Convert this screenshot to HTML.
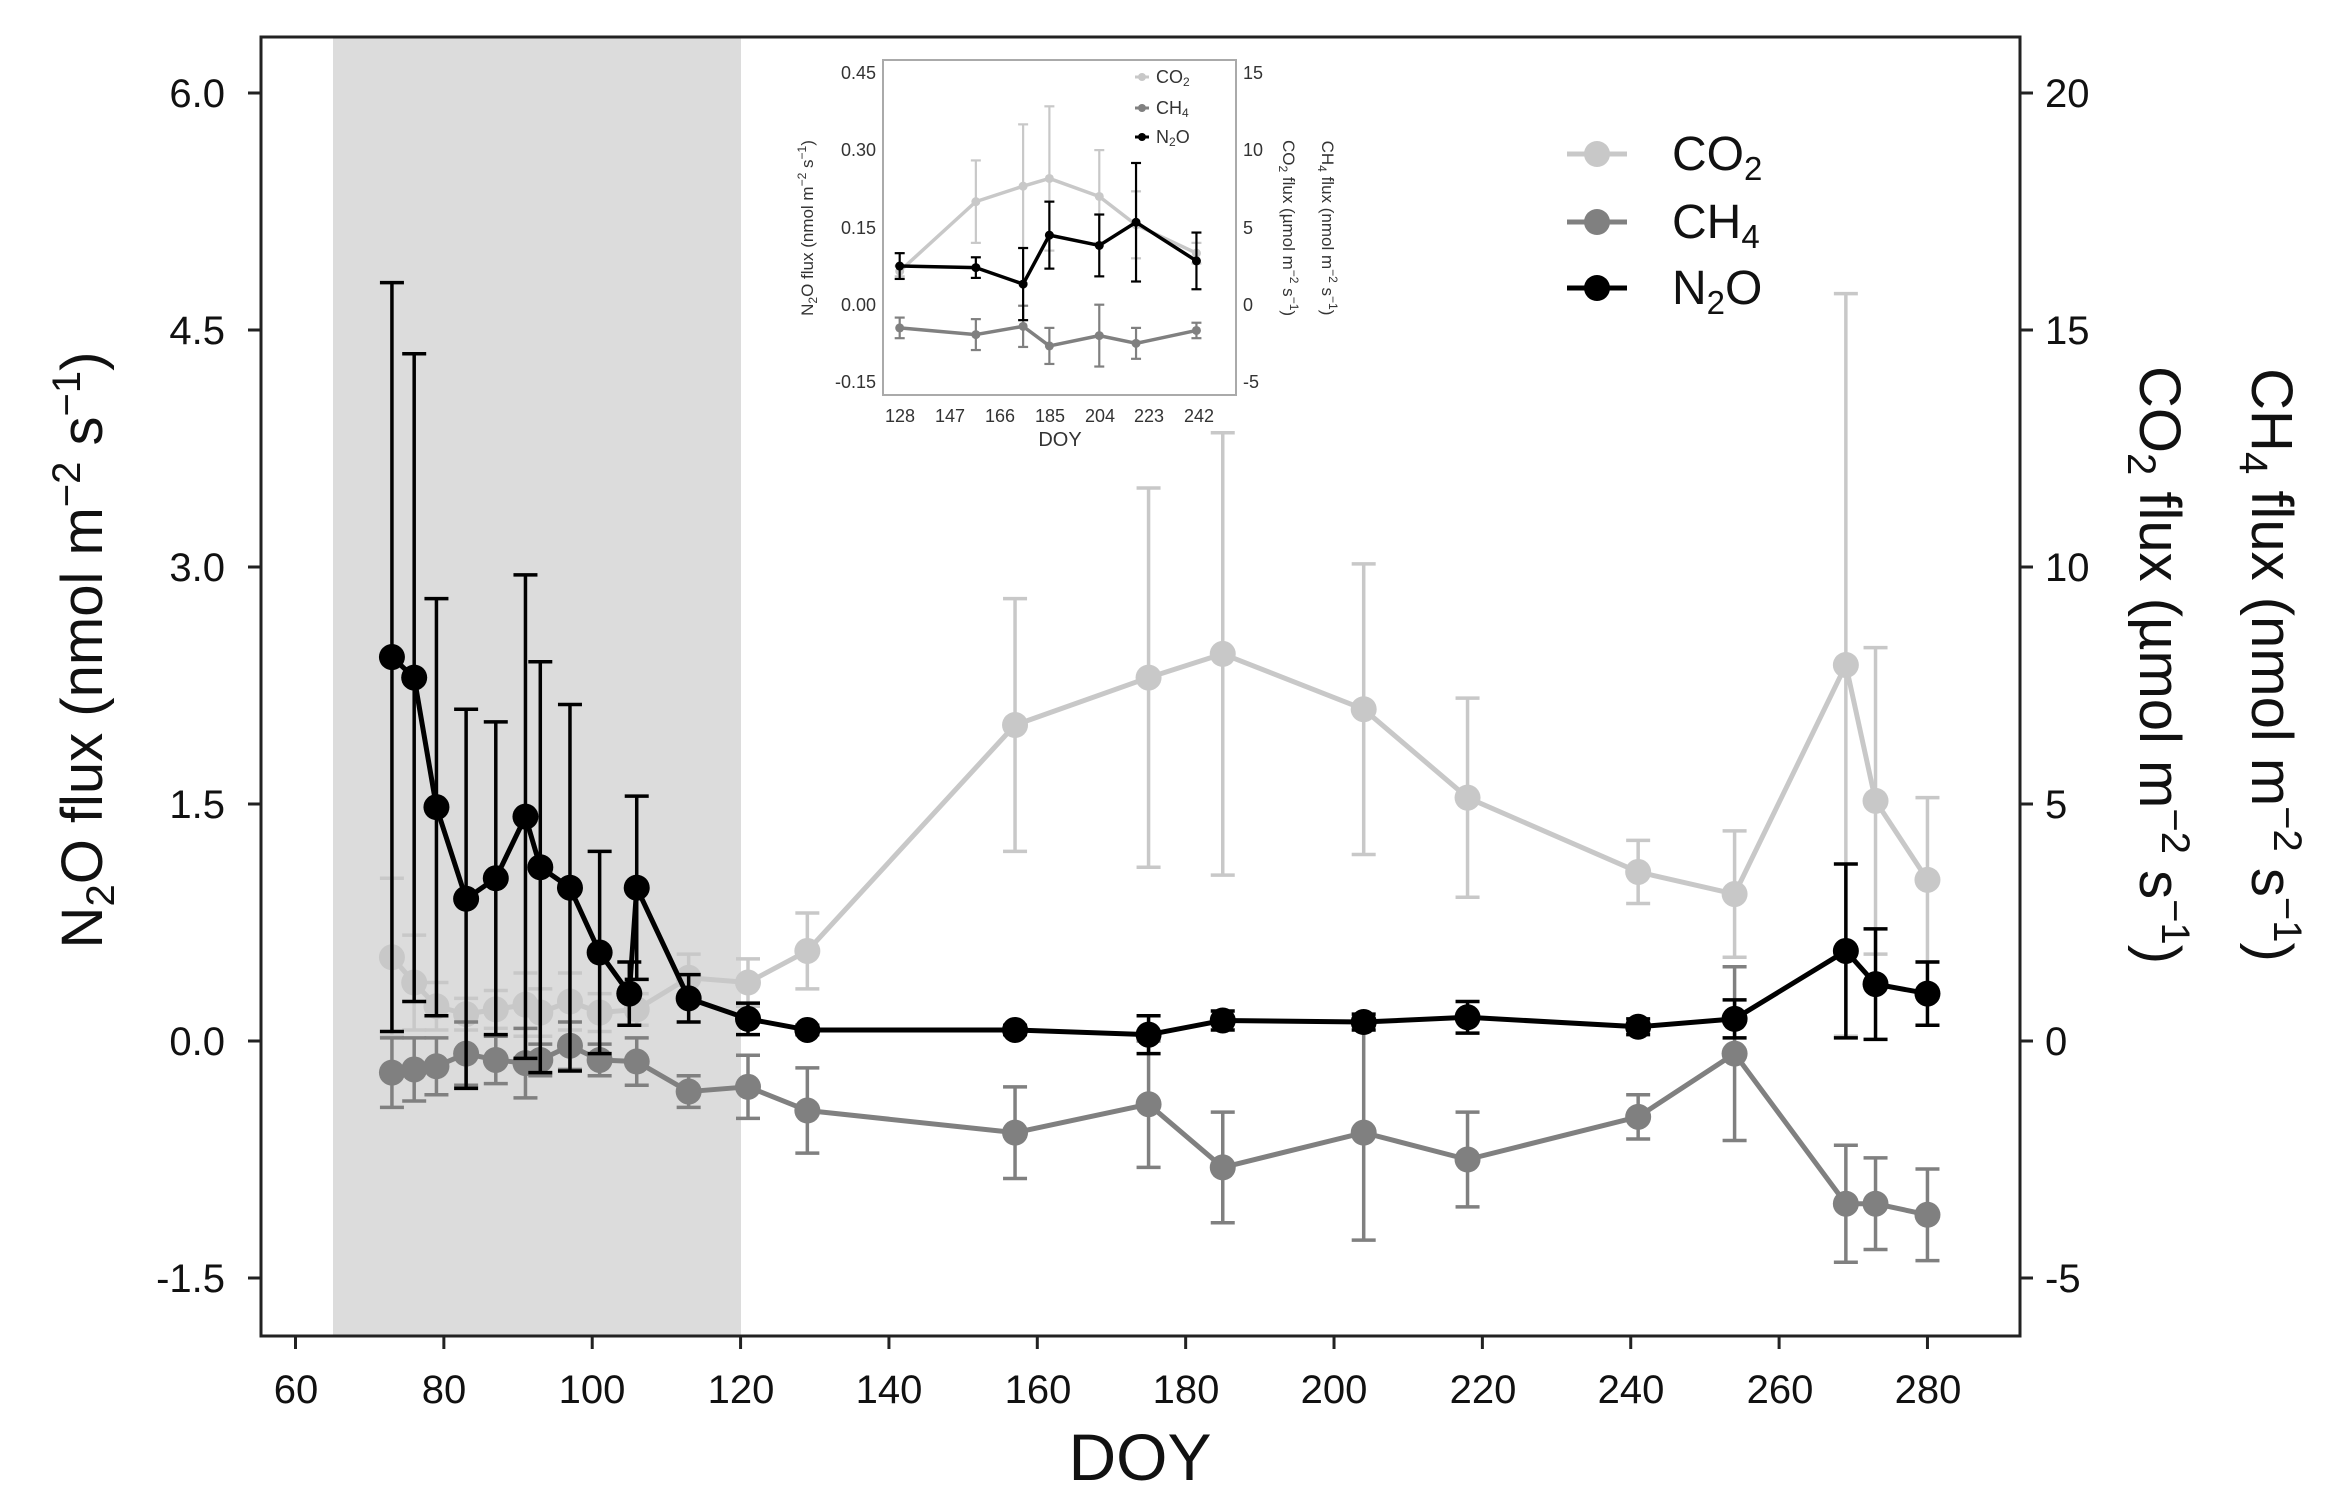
<!DOCTYPE html>
<html><head><meta charset="utf-8"><style>
html,body{margin:0;padding:0;background:#fff;}
svg{display:block;font-family:"Liberation Sans",Arial,sans-serif;}
</style></head><body>
<svg id="s" width="2339" height="1498" viewBox="0 0 2339 1498" xmlns="http://www.w3.org/2000/svg">
<rect x="0" y="0" width="2339" height="1498" fill="#fff"/>
<rect x="333" y="37" width="408" height="1299" fill="#dcdcdc"/>
<g id="main"></g>
<rect x="261" y="37" width="1759" height="1299" fill="none" stroke="#222" stroke-width="3"/>
<g font-size="40" fill="#111" text-anchor="end">
<text x="225" y="107">6.0</text><text x="225" y="344">4.5</text><text x="225" y="581">3.0</text>
<text x="225" y="818">1.5</text><text x="225" y="1055">0.0</text><text x="225" y="1292">-1.5</text>
</g>
<g stroke="#222" stroke-width="3">
<line x1="248" y1="93" x2="261" y2="93"/><line x1="248" y1="330" x2="261" y2="330"/><line x1="248" y1="567" x2="261" y2="567"/>
<line x1="248" y1="804" x2="261" y2="804"/><line x1="248" y1="1041" x2="261" y2="1041"/><line x1="248" y1="1278" x2="261" y2="1278"/>
<line x1="2020" y1="93" x2="2033" y2="93"/><line x1="2020" y1="330" x2="2033" y2="330"/><line x1="2020" y1="567" x2="2033" y2="567"/>
<line x1="2020" y1="804" x2="2033" y2="804"/><line x1="2020" y1="1041" x2="2033" y2="1041"/><line x1="2020" y1="1278" x2="2033" y2="1278"/>
</g>
<g font-size="40" fill="#111" text-anchor="start">
<text x="2045" y="107">20</text><text x="2045" y="344">15</text><text x="2045" y="581">10</text>
<text x="2045" y="818">5</text><text x="2045" y="1055">0</text><text x="2045" y="1292">-5</text>
</g>
<g id="xt" stroke="#222" stroke-width="3"></g>
<g font-size="40" fill="#111" text-anchor="middle">
<text x="296" y="1403">60</text><text x="444" y="1403">80</text><text x="592" y="1403">100</text><text x="741" y="1403">120</text>
<text x="889" y="1403">140</text><text x="1038" y="1403">160</text><text x="1186" y="1403">180</text><text x="1334" y="1403">200</text>
<text x="1483" y="1403">220</text><text x="1631" y="1403">240</text><text x="1780" y="1403">260</text><text x="1928" y="1403">280</text>
</g>
<text x="1140" y="1480" font-size="66" text-anchor="middle" fill="#111">DOY</text>
<text transform="translate(102,650) rotate(-90)" font-size="58" text-anchor="middle" fill="#111">N<tspan font-size="40" dy="12">2</tspan><tspan dy="-12">O flux (nmol m</tspan><tspan font-size="40" dy="-22">−2</tspan><tspan dy="22"> s</tspan><tspan font-size="40" dy="-22">−1</tspan><tspan dy="22">)</tspan></text>
<text transform="translate(2140,665) rotate(90)" font-size="58" text-anchor="middle" fill="#111">CO<tspan font-size="40" dy="12">2</tspan><tspan dy="-12"> flux (µmol m</tspan><tspan font-size="40" dy="-22">−2</tspan><tspan dy="22"> s</tspan><tspan font-size="40" dy="-22">−1</tspan><tspan dy="22">)</tspan></text>
<text transform="translate(2252,665) rotate(90)" font-size="58" text-anchor="middle" fill="#111">CH<tspan font-size="40" dy="12">4</tspan><tspan dy="-12"> flux (nmol m</tspan><tspan font-size="40" dy="-22">−2</tspan><tspan dy="22"> s</tspan><tspan font-size="40" dy="-22">−1</tspan><tspan dy="22">)</tspan></text>
<g>
<line x1="1567" y1="154" x2="1627" y2="154" stroke="#c8c8c8" stroke-width="5"/><circle cx="1597" cy="154" r="13" fill="#c8c8c8"/>
<line x1="1567" y1="222" x2="1627" y2="222" stroke="#808080" stroke-width="5"/><circle cx="1597" cy="222" r="13" fill="#808080"/>
<line x1="1567" y1="288" x2="1627" y2="288" stroke="#000" stroke-width="5"/><circle cx="1597" cy="288" r="13" fill="#000"/>
<g font-size="48" fill="#111">
<text x="1672" y="170">CO<tspan font-size="33" dy="10">2</tspan></text>
<text x="1672" y="238">CH<tspan font-size="33" dy="10">4</tspan></text>
<text x="1672" y="304">N<tspan font-size="33" dy="10">2</tspan><tspan dy="-10">O</tspan></text>
</g></g>
<!-- inset -->
<rect x="883" y="60" width="353" height="335" fill="#fff"/>
<g id="ins"></g>
<rect x="883" y="60" width="353" height="335" fill="none" stroke="#aaa" stroke-width="2"/>
<g font-size="18" fill="#333" text-anchor="end">
<text x="876" y="79">0.45</text><text x="876" y="156">0.30</text><text x="876" y="234">0.15</text>
<text x="876" y="311">0.00</text><text x="876" y="388">-0.15</text>
</g>
<g font-size="18" fill="#333">
<text x="1243" y="79">15</text><text x="1243" y="156">10</text><text x="1243" y="234">5</text>
<text x="1243" y="311">0</text><text x="1243" y="388">-5</text>
</g>
<g font-size="18" fill="#333" text-anchor="middle">
<text x="900" y="422">128</text><text x="950" y="422">147</text><text x="1000" y="422">166</text><text x="1050" y="422">185</text>
<text x="1100" y="422">204</text><text x="1149" y="422">223</text><text x="1199" y="422">242</text>
<text x="1060" y="446" font-size="20">DOY</text>
</g>
<text transform="translate(813,228) rotate(-90)" font-size="17" text-anchor="middle" fill="#333">N<tspan font-size="12" dy="4">2</tspan><tspan dy="-4">O flux (nmol m</tspan><tspan font-size="12" dy="-7">−2</tspan><tspan dy="7"> s</tspan><tspan font-size="12" dy="-7">−1</tspan><tspan dy="7">)</tspan></text>
<text transform="translate(1283,228) rotate(90)" font-size="17" text-anchor="middle" fill="#333">CO<tspan font-size="12" dy="4">2</tspan><tspan dy="-4"> flux (µmol m</tspan><tspan font-size="12" dy="-7">−2</tspan><tspan dy="7"> s</tspan><tspan font-size="12" dy="-7">−1</tspan><tspan dy="7">)</tspan></text>
<text transform="translate(1322,228) rotate(90)" font-size="17" text-anchor="middle" fill="#333">CH<tspan font-size="12" dy="4">4</tspan><tspan dy="-4"> flux (nmol m</tspan><tspan font-size="12" dy="-7">−2</tspan><tspan dy="7"> s</tspan><tspan font-size="12" dy="-7">−1</tspan><tspan dy="7">)</tspan></text>
<g font-size="18" fill="#333">
<circle cx="1142" cy="77" r="4" fill="#c8c8c8"/><line x1="1135" y1="77" x2="1149" y2="77" stroke="#c8c8c8" stroke-width="3"/>
<circle cx="1142" cy="108" r="4" fill="#808080"/><line x1="1135" y1="108" x2="1149" y2="108" stroke="#808080" stroke-width="3"/>
<circle cx="1142" cy="137" r="4" fill="#000"/><line x1="1135" y1="137" x2="1149" y2="137" stroke="#000" stroke-width="3"/>
<text x="1156" y="83">CO<tspan font-size="12" dy="3">2</tspan></text>
<text x="1156" y="114">CH<tspan font-size="12" dy="3">4</tspan></text>
<text x="1156" y="143">N<tspan font-size="12" dy="3">2</tspan><tspan dy="-3">O</tspan></text>
</g>
</svg>
<script>
var NS="http://www.w3.org/2000/svg";
function el(p,t,a){var e=document.createElementNS(NS,t);for(var k in a)e.setAttribute(k,a[k]);p.appendChild(e);return e;}
var xt=document.getElementById("xt");
for(var d=60;d<=280;d+=20){var x=295.5+(d-60)*7.418;el(xt,"line",{x1:x,y1:1336,x2:x,y2:1349});}
var co2=[[73,.53,.5],[76,.37,.3],[79,.22,.15],[83,.17,.1],[87,.2,.12],[91,.23,.2],[93,.18,.15],[97,.25,.18],[101,.18,.12],[106,.2,.1],[113,.4,.15],[121,.37,.15],[129,.57,.24],[157,2.0,.8],[175,2.3,1.2],[185,2.45,1.4],[204,2.1,.92],[218,1.54,.63],[241,1.07,.2],[254,.93,.4],[269,2.38,2.35],[273,1.52,.97],[280,1.02,.52]];
var ch4=[[73,-.2,.22],[76,-.18,.2],[79,-.16,.18],[83,-.08,.2],[87,-.12,.15],[91,-.14,.22],[93,-.12,.1],[97,-.03,.15],[101,-.12,.1],[106,-.13,.15],[113,-.32,.1],[121,-.29,.2],[129,-.44,.27],[157,-.58,.29],[175,-.4,.4],[185,-.8,.35],[204,-.58,.68],[218,-.75,.3],[241,-.48,.14],[254,-.08,.55],[269,-1.03,.37],[273,-1.03,.29],[280,-1.1,.29]];
var n2o=[[73,2.43,2.37],[76,2.3,2.05],[79,1.48,1.32],[83,.9,1.2],[87,1.03,.99],[91,1.42,1.53],[93,1.1,1.3],[97,.97,1.16],[101,.56,.64],[105,.3,.2],[106,.97,.58],[113,.27,.15],[121,.14,.1],[129,.07,.03],[157,.07,.03],[175,.04,.12],[185,.13,.06],[204,.12,.05],[218,.15,.1],[241,.09,.05],[254,.14,.12],[269,.57,.55],[273,.36,.35],[280,.3,.2]];
function draw(g,data,col,X,Y,r,lw,cap,ew){
  var pts=data.map(function(p){return X(p[0])+","+Y(p[1]);}).join(" ");
  data.forEach(function(p){var x=X(p[0]),y1=Y(p[1]+p[2]),y2=Y(p[1]-p[2]);
    el(g,"line",{x1:x,y1:y1,x2:x,y2:y2,stroke:col,"stroke-width":ew});
    el(g,"line",{x1:x-cap,y1:y1,x2:x+cap,y2:y1,stroke:col,"stroke-width":ew});
    el(g,"line",{x1:x-cap,y1:y2,x2:x+cap,y2:y2,stroke:col,"stroke-width":ew});});
  el(g,"polyline",{points:pts,fill:"none",stroke:col,"stroke-width":lw,"stroke-linejoin":"round"});
  data.forEach(function(p){el(g,"circle",{cx:X(p[0]),cy:Y(p[1]),r:r,fill:col});});
}
var g=document.getElementById("main");
var X=function(d){return 295.5+(d-60)*7.418;},Y=function(v){return 1041-v*158;};
draw(g,co2,"#c8c8c8",X,Y,13,5,12,3.5);
draw(g,ch4,"#808080",X,Y,13,5,12,3.5);
draw(g,n2o,"#000",X,Y,13,5,12,3.5);
var gi=document.getElementById("ins");
var Xi=function(d){return 899.7+(d-128)*2.626;},Yi=function(v){return 304.7-v*515.3;};
var days=[128,157,175,185,204,218,241];
var ic=[[.065,.01],[.2,.08],[.23,.12],[.245,.14],[.21,.09],[.155,.065],[.1,.02]];
var ih=[[-.045,.02],[-.058,.03],[-.042,.04],[-.08,.035],[-.06,.06],[-.075,.03],[-.05,.015]];
var inn=[[.075,.025],[.072,.02],[.04,.07],[.135,.065],[.115,.06],[.16,.115],[.085,.055]];
function z(a){return a.map(function(p,i){return [days[i],p[0],p[1]];});}
draw(gi,z(ic),"#c8c8c8",Xi,Yi,4.5,3.5,5,2.2);
draw(gi,z(ih),"#808080",Xi,Yi,4.5,3.5,5,2.2);
draw(gi,z(inn),"#000",Xi,Yi,4.5,3.5,5,2.2);
</script>
</body></html>
